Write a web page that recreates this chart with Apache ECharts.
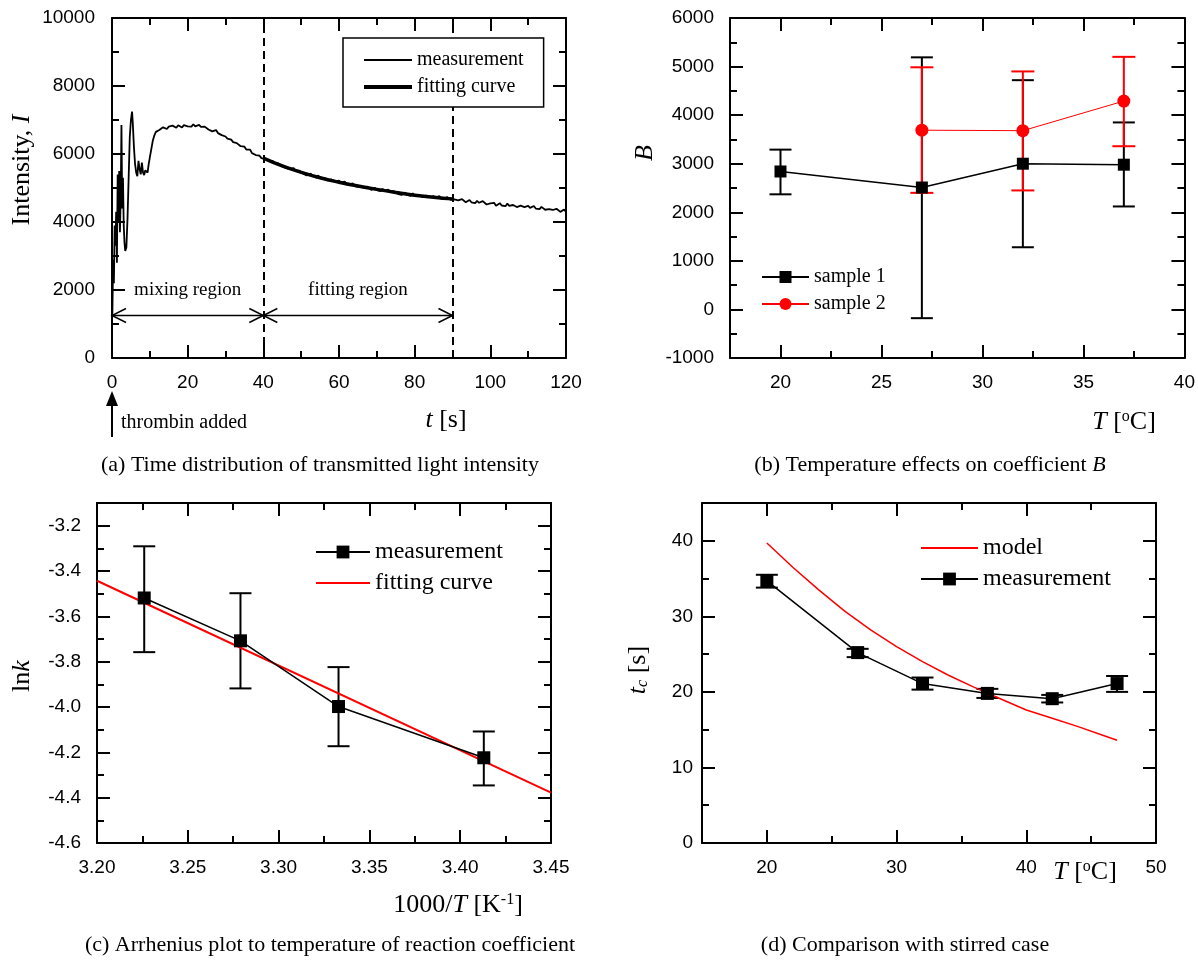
<!DOCTYPE html>
<html>
<head>
<meta charset="utf-8">
<script src="https://cdn.jsdelivr.net/npm/echarts@6/dist/echarts.min.js"></script>
<style>
  html, body { margin: 0; padding: 0; background: #fff; }
  #chart { width: 1198px; height: 965px; }
</style>
</head>
<body>
<div id="chart"></div>
<script>
// ---------- (a) transmitted light intensity vs time ----------
const earlyTime = [0.1,0.3,0.5,0.7,0.9,1.1,1.3,1.5,1.7,1.9,2.1,2.3,2.5,2.7,2.9,3.1,3.3,3.5,3.8,4.1,4.4,4.7,5.0,5.3,5.5,5.8,6.1,6.4,6.7,7.0,7.3,7.6,7.9,8.2,8.5,8.8,9.1,9.4,9.7,10.0,10.4,10.8,11.2,11.6,12.0];
const earlyIntensity = [1300,2900,2200,3900,3300,4300,2800,5400,4000,5500,3700,4700,6850,4400,5300,3900,3400,3150,3250,4100,5300,6500,7000,7250,6900,6200,5700,5450,5350,5800,5550,5400,5750,5450,5380,5520,5500,5450,5700,5900,6150,6400,6550,6650,6700];
// recorded every 0.5 s from 12.5 s to 120 s
const laterStart = 12.5;
const laterStep = 0.5;
const laterIntensity = [
  6705,6690,6785,6770,6735,6805,6780,6835,6780,6770,
  6845,6810,6780,6850,6870,6815,6845,6805,6875,6815,
  6800,6855,6795,6750,6805,6780,6720,6765,6665,6705,
  6705,6615,6625,6555,6605,6515,6455,6480,6425,6350,
  6305,6320,6310,6230,6180,6215,6130,6130,6130,6025,
  6040,5970,6010,5950,5880,5915,5860,5885,5795,5750,
  5795,5730,5675,5720,5715,5635,5645,5585,5640,5565,
  5540,5585,5515,5460,5510,5480,5422,5470,5373,5415,
  5425,5345,5365,5305,5370,5295,5255,5300,5273,5225,
  5208,5250,5258,5195,5163,5215,5148,5165,5188,5105,
  5135,5080,5140,5100,5043,5090,5048,5085,5010,4980,
  5040,4990,4945,5000,5005,4935,4958,4910,4978,4915,
  4900,4955,4895,4850,4905,4880,4830,4885,4798,4850,
  4868,4795,4823,4770,4843,4775,4745,4800,4780,4740,
  4728,4775,4788,4730,4705,4765,4705,4730,4760,4685,
  4720,4670,4735,4700,4650,4705,4667,4710,4638,4610,
  4673,4625,4583,4640,4648,4580,4603,4555,4625,4565,
  4555,4615,4558,4515,4573,4550,4505,4565,4480,4535,
  4555,4485,4515,4465,4540,4475,4445,4500,4480,4440,
  4430,4480,4495,4440,4415,4475,4415,4440,4470,4395,
  4430,4380,4445,4410,4360,4415,4380,4425,4353,4325,
  4388,4340,4298,4355,4365,4300
];
const fitTime = [40,45,50,55,60,65,70,75,80,85,90];
const fitIntensity = [5880,5650,5460,5300,5170,5060,4960,4870,4790,4730,4680];
const regionBounds = [[0,40],[40,90]];
const regionLabels = ['mixing region','fitting region'];
const regionLevel = 1250;
const boundaryTimes = [40,90];

// ---------- (b) coefficient B vs temperature ----------
const tempB1 = [20,27,32,37];
const sample1B = [2840,2510,3000,2980];
const sample1Low = [2370,-180,1280,2120];
const sample1High = [3290,5190,4720,3850];
const tempB2 = [27,32,37];
const sample2B = [3690,3680,4290];
const sample2Low = [2400,2450,3360];
const sample2High = [4985,4900,5200];

// ---------- (c) Arrhenius plot ----------
const invTemp = [3.226,3.279,3.333,3.413];
const lnK = [-3.519,-3.708,-3.998,-4.224];
const lnKLow = [-3.758,-3.918,-4.173,-4.346];
const lnKHigh = [-3.291,-3.498,-3.824,-4.108];
const fitInvTemp = [3.20,3.45];
const fitLnK = [-3.443,-4.378];

// ---------- (d) clotting time vs temperature ----------
const tempD = [20,27,32,37,42,47];
const tcMeasured = [34.7,25.2,21.1,19.8,19.1,21.1];
const tcLow = [33.8,24.6,20.3,19.2,18.6,20.0];
const tcHigh = [35.5,25.7,21.9,20.4,19.6,22.1];
const modelTemp = [20,22,24,26,28,30,32,34,36,38,40,42,44,46,47];
const modelTc = [39.7,36.5,33.5,30.7,28.2,26.0,24.0,22.2,20.6,19.1,17.6,16.5,15.4,14.2,13.6];

// ---------- tick values ----------
const aTickX = [0,20,40,60,80,100,120];
const aMinorX = [10,30,50,70,90,110];
const aTickY = [0,2000,4000,6000,8000,10000];
const aMinorY = [1000,3000,5000,7000,9000];
const bTickX = [20,25,30,35,40];
const bMinorX = [22.5,27.5,32.5,37.5];
const bTickY = [-1000,0,1000,2000,3000,4000,5000,6000];
const bMinorY = [-500,500,1500,2500,3500,4500,5500];
const cTickX = [3.20,3.25,3.30,3.35,3.40,3.45];
const cMinorX = [3.225,3.275,3.325,3.375,3.425];
const cTickY = [-4.6,-4.4,-4.2,-4.0,-3.8,-3.6,-3.4,-3.2];
const cMinorY = [-4.5,-4.3,-4.1,-3.9,-3.7,-3.5,-3.3];
const dTickX = [20,30,40,50];
const dMinorX = [25,35,45];
const dTickY = [0,10,20,30,40];
const dMinorY = [5,15,25,35];

const legendText = {
  aMeasured: 'measurement', aFit: 'fitting curve',
  bSample1: 'sample 1', bSample2: 'sample 2',
  cMeasured: 'measurement', cFit: 'fitting curve',
  dModel: 'model', dMeasured: 'measurement'
};

const SERIF = '"Liberation Serif","Times New Roman",serif';
const SANS = '"Liberation Sans",Arial,sans-serif';
const RED = '#ff0000';

// Four axes per side: ticked frame edge with labels, minor ticks, and mirrored ticks on the far edge.
function frame(grid, dim, min, max, major, minor, opt) {
  const isX = dim === 'x';
  const near = isX ? 'bottom' : 'left';
  const far = isX ? 'top' : 'right';
  const base = { gridIndex: grid, type: 'value', min, max, splitLine: { show: false } };
  const line = { show: true, onZero: false, lineStyle: { color: '#000', width: 2 } };
  const noLine = { show: false, onZero: false };
  const tick = (vals, len) => ({ show: true, inside: true, length: len, customValues: vals,
                                 lineStyle: { color: '#000', width: 2 } });
  const noLabel = { show: false };
  return [
    Object.assign({}, base, { position: near, axisLine: line, axisTick: tick(major, 13),
      axisLabel: { show: true, customValues: major, margin: opt.margin, color: '#000',
                   fontFamily: SANS, fontSize: 19,
                   formatter: opt.fmt || (v => String(v)) } }),
    Object.assign({}, base, { position: near, axisLine: noLine, axisTick: tick(minor, 7), axisLabel: noLabel }),
    Object.assign({}, base, { position: far, axisLine: line, axisTick: tick(major, 13), axisLabel: noLabel }),
    Object.assign({}, base, { position: far, axisLine: noLine, axisTick: tick(minor, 7), axisLabel: noLabel })
  ];
}

function errorBars(name, panel, xs, lo, hi, color, half, width, z) {
  return {
    type: 'custom', name, xAxisIndex: 4 * panel, yAxisIndex: 4 * panel, z, silent: true,
    data: xs.map((x, i) => [x, lo[i], hi[i]]),
    encode: { x: 0, y: [1, 2] },
    renderItem(params, api) {
      const top = api.coord([api.value(0), api.value(2)]);
      const bot = api.coord([api.value(0), api.value(1)]);
      const st = { stroke: color, lineWidth: width };
      return { type: 'group', children: [
        { type: 'line', shape: { x1: top[0], y1: top[1], x2: bot[0], y2: bot[1] }, style: st },
        { type: 'line', shape: { x1: top[0] - half, y1: top[1], x2: top[0] + half, y2: top[1] }, style: st },
        { type: 'line', shape: { x1: bot[0] - half, y1: bot[1], x2: bot[0] + half, y2: bot[1] }, style: st }
      ] };
    }
  };
}

function pairs(xs, ys) { return xs.map((x, i) => [x, ys[i]]); }

function text(str, x, y, size, rotate) {
  const small = Math.round(size * 0.6);
  return {
    type: 'text', x, y, rotation: rotate ? Math.PI / 2 : 0, silent: true,
    style: {
      text: str, align: 'center', verticalAlign: 'middle', fill: '#000',
      fontFamily: SERIF, fontSize: size,
      rich: {
        i: { fontFamily: SERIF, fontSize: size, fontStyle: 'italic', fill: '#000' },
        sup: { fontFamily: SERIF, fontSize: small, verticalAlign: 'top', fill: '#000' },
        sub: { fontFamily: SERIF, fontSize: small, fontStyle: 'italic', verticalAlign: 'bottom', fill: '#000' }
      }
    }
  };
}

const measuredA = pairs(earlyTime, earlyIntensity)
  .concat(laterIntensity.map((v, i) => [laterStart + laterStep * i, v]));

const legendBase = {
  orient: 'vertical', selectedMode: false, padding: 0, itemGap: 7,
  formatter: n => legendText[n],
  textStyle: { fontFamily: SERIF, fontSize: 20, color: '#000' }
};
// legend entries for plain lines carry no marker
const lineOnly = (name, extra) => Object.assign({ name, itemStyle: { opacity: 0 } }, extra || {});

const chart = echarts.init(document.getElementById('chart'), null, { renderer: 'canvas' });
chart.setOption({
  animation: false,
  backgroundColor: '#fff',
  grid: [
    { left: 112, top: 18, width: 454, height: 340 },
    { left: 730, top: 18, width: 455, height: 340 },
    { left: 97, top: 503, width: 454, height: 340 },
    { left: 702, top: 503, width: 454, height: 340 }
  ],
  xAxis: [].concat(
    frame(0, 'x', 0, 120, aTickX, aMinorX, { margin: 15 }),
    frame(1, 'x', 17.5, 40, bTickX, bMinorX, { margin: 15 }),
    frame(2, 'x', 3.2, 3.45, cTickX, cMinorX, { margin: 15, fmt: v => v.toFixed(2) }),
    frame(3, 'x', 15, 50, dTickX, dMinorX, { margin: 15 })
  ),
  yAxis: [].concat(
    frame(0, 'y', 0, 10000, aTickY, aMinorY, { margin: 17 }),
    frame(1, 'y', -1000, 6000, bTickY, bMinorY, { margin: 16 }),
    frame(2, 'y', -4.6, -3.1, cTickY, cMinorY, { margin: 16, fmt: v => v.toFixed(1) }),
    frame(3, 'y', 0, 45, dTickY, dMinorY, { margin: 9 })
  ),
  legend: [
    Object.assign({}, legendBase, {
      data: [lineOnly('aMeasured'), lineOnly('aFit', { lineStyle: { width: 4 } })],
      left: 343, top: 38, padding: [12, 20, 10, 19],
      itemWidth: 48, itemHeight: 14, borderColor: '#000', borderWidth: 1.5,
      backgroundColor: '#fff', z: 10
    }),
    Object.assign({}, legendBase, {
      data: ['bSample1', 'bSample2'], left: 761, top: 267, itemWidth: 47, itemHeight: 15
    }),
    Object.assign({}, legendBase, {
      data: ['cMeasured', lineOnly('cFit')], left: 315, top: 540, itemWidth: 54, itemHeight: 16,
      textStyle: { fontFamily: SERIF, fontSize: 24, color: '#000' }
    }),
    Object.assign({}, legendBase, {
      data: [lineOnly('dModel'), 'dMeasured'], left: 920, top: 536, itemWidth: 57, itemHeight: 16,
      textStyle: { fontFamily: SERIF, fontSize: 24, color: '#000' }
    })
  ],
  series: [
    // (a)
    {
      name: 'aMeasured', type: 'line', xAxisIndex: 0, yAxisIndex: 0, data: measuredA,
      showSymbol: false, symbol: 'none', z: 3,
      lineStyle: { color: '#000', width: 1.8 }, itemStyle: { color: '#000' },
      markLine: {
        silent: true, symbol: ['none', 'none'], label: { show: false },
        lineStyle: { color: '#000', width: 2, type: [8, 5] },
        data: boundaryTimes.map(t => ({ xAxis: t }))
      }
    },
    {
      name: 'aFit', type: 'line', xAxisIndex: 0, yAxisIndex: 0, data: pairs(fitTime, fitIntensity),
      showSymbol: false, symbol: 'none', smooth: true, z: 4,
      lineStyle: { color: '#000', width: 3.5 }, itemStyle: { color: '#000' }
    },
    {
      type: 'custom', xAxisIndex: 0, yAxisIndex: 0, z: 5, silent: true,
      data: regionBounds.map(r => [r[0], r[1], regionLevel]),
      encode: { x: [0, 1], y: 2 },
      renderItem(params, api) {
        const a = api.coord([api.value(0), api.value(2)]);
        const b = api.coord([api.value(1), api.value(2)]);
        const y = a[1], h = 7, L = 14;
        const st = { stroke: '#000', lineWidth: 1.5, fill: null };
        return { type: 'group', children: [
          { type: 'line', shape: { x1: a[0], y1: y, x2: b[0], y2: y }, style: st },
          { type: 'polyline', shape: { points: [[a[0] + L, y - h], [a[0], y], [a[0] + L, y + h]] }, style: st },
          { type: 'polyline', shape: { points: [[b[0] - L, y - h], [b[0], y], [b[0] - L, y + h]] }, style: st },
          { type: 'text', style: { text: regionLabels[params.dataIndex], x: (a[0] + b[0]) / 2, y: y - 25,
              align: 'center', verticalAlign: 'middle', fill: '#000', fontFamily: SERIF, fontSize: 19 } }
        ] };
      }
    },
    // (b)
    errorBars('bErr1', 1, tempB1, sample1Low, sample1High, '#000', 11, 2, 2),
    errorBars('bErr2', 1, tempB2, sample2Low, sample2High, RED, 11.5, 2, 3),
    {
      name: 'bSample1', type: 'line', xAxisIndex: 4, yAxisIndex: 4, data: pairs(tempB1, sample1B),
      symbol: 'rect', symbolSize: 12, z: 4,
      lineStyle: { color: '#000', width: 1.5 }, itemStyle: { color: '#000' }
    },
    {
      name: 'bSample2', type: 'line', xAxisIndex: 4, yAxisIndex: 4, data: pairs(tempB2, sample2B),
      symbol: 'circle', symbolSize: 13, z: 5,
      lineStyle: { color: RED, width: 1 }, itemStyle: { color: RED }
    },
    // (c)
    errorBars('cErr', 2, invTemp, lnKLow, lnKHigh, '#000', 11, 2, 2),
    {
      name: 'cFit', type: 'line', xAxisIndex: 8, yAxisIndex: 8, data: pairs(fitInvTemp, fitLnK),
      showSymbol: false, symbol: 'none', z: 3,
      lineStyle: { color: RED, width: 2 }, itemStyle: { color: RED }
    },
    {
      name: 'cMeasured', type: 'line', xAxisIndex: 8, yAxisIndex: 8, data: pairs(invTemp, lnK),
      symbol: 'rect', symbolSize: 13, z: 4,
      lineStyle: { color: '#000', width: 1.5 }, itemStyle: { color: '#000' }
    },
    // (d)
    errorBars('dErr', 3, tempD, tcLow, tcHigh, '#000', 11, 2, 2),
    {
      name: 'dModel', type: 'line', xAxisIndex: 12, yAxisIndex: 12, data: pairs(modelTemp, modelTc),
      showSymbol: false, symbol: 'none', z: 3,
      lineStyle: { color: RED, width: 1.5 }, itemStyle: { color: RED }
    },
    {
      name: 'dMeasured', type: 'line', xAxisIndex: 12, yAxisIndex: 12, data: pairs(tempD, tcMeasured),
      symbol: 'rect', symbolSize: 13, z: 4,
      lineStyle: { color: '#000', width: 1.5 }, itemStyle: { color: '#000' }
    }
  ],
  graphic: [
    // axis titles
    text('{i|t} [s]', 446, 420, 26),
    text('Intensity, {i|I}', 22, 170, 26, true),
    text('{i|T} [{sup|o}C]', 1124, 422, 26),
    text('{i|B}', 645, 153, 26, true),
    text('1000/{i|T} [K{sup|-1}]', 458, 905, 26),
    text('ln{i|k}', 22, 676, 26, true),
    text('{i|T} [{sup|o}C]', 1085, 872, 26),
    text('{i|t}{sub|c} [s]', 638, 670, 26, true),
    // panel captions
    text('(a) Time distribution of transmitted light intensity', 320, 465, 22),
    text('(b) Temperature effects on coefficient {i|B}', 930, 465, 22),
    text('(c) Arrhenius plot to temperature of reaction coefficient', 330, 945, 22),
    text('(d) Comparison with stirred case', 905, 945, 22),
    // marker for the moment thrombin is added (t = 0)
    { type: 'line', silent: true, shape: { x1: 112, y1: 437, x2: 112, y2: 402 },
      style: { stroke: '#000', lineWidth: 2 } },
    { type: 'polygon', silent: true, shape: { points: [[112, 391], [106, 406], [118, 406]] },
      style: { fill: '#000' } },
    { type: 'text', silent: true, x: 121, y: 423,
      style: { text: 'thrombin added', align: 'left', verticalAlign: 'middle', fill: '#000',
               fontFamily: SERIF, fontSize: 20 } }
  ]
});
</script>
</body>
</html>
